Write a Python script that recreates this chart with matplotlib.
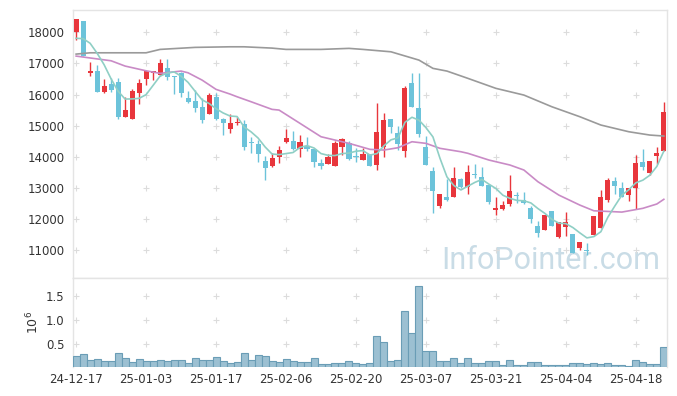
import matplotlib
matplotlib.use('Agg')
import matplotlib.pyplot as plt
import numpy as np
import pandas as pd

# ---------------- data ----------------
opens = [18020, 18360, 16700, 16750, 16080, 16340, 16400, 15290, 15200, 16060,
         16490, 16680, 16630, 16870, 16600, 16680, 15890, 15780, 15600, 15360,
         15910, 15230, 14900, 15080, 15040, 14480, 14410, 13860, 13700, 14000,
         14470, 14500, 14240, 14350, 14240, 13790, 13780, 13710, 14300, 14430,
         14030, 13900, 14080, 13740, 14320, 15200, 14750, 14190, 16360, 15560,
         14300, 13540, 12400, 12710, 12710, 13300, 13040, 13430, 13340, 13090,
         12300, 12310, 12470, 12780, 12610, 12360, 11770, 11640, 12240, 11410,
         11750, 11515, 11075, 10990, 11483, 11698, 12609, 13219, 12985, 12769,
         13004, 13840, 13467, 14033, 14193]
highs = [18440, 18370, 17050, 16950, 16500, 16520, 16520, 15910, 16170, 16500,
         16760, 16770, 17160, 17160, 16610, 16720, 16120, 16145, 15880, 16060,
         16040, 15240, 15360, 15290, 15180, 14620, 14540, 14020, 14130, 14340,
         14880, 14830, 14700, 14640, 14260, 13930, 14090, 14500, 14590, 14500,
         14270, 14270, 14100, 15740, 15420, 15210, 14990, 16260, 16680, 16680,
         14670, 13680, 12810, 13280, 13660, 13320, 13730, 13760, 13680, 13100,
         12710, 12580, 13410, 12880, 12880, 12400, 11920, 12130, 12250, 11900,
         12232, 11520, 11260, 11235, 12100, 12930, 13306, 13338, 13197, 12990,
         14055, 14238, 13870, 14302, 15769]
lows = [17750, 17240, 16600, 16080, 16040, 16090, 15200, 15280, 15200, 15690,
        16300, 16470, 16600, 16470, 16010, 15910, 15740, 15430, 15090, 15360,
        15180, 14700, 14750, 15020, 14220, 14110, 13840, 13240, 13660, 13790,
        14430, 14220, 14000, 14200, 13680, 13600, 13770, 13700, 14060, 13900,
        13840, 13900, 13700, 13570, 13980, 14770, 14220, 14000, 15600, 14640,
        13730, 12180, 12340, 12590, 12700, 13000, 12800, 13320, 13050, 12480,
        12130, 12300, 12410, 12520, 12480, 11880, 11410, 11640, 11770, 11400,
        11450, 10900, 11000, 10840, 11483, 11698, 12555, 12801, 12714, 12586,
        12319, 13573, 13412, 13766, 14193]
closes = [18430, 17250, 16760, 16090, 16270, 16150, 15270, 15500, 16110, 16360,
          16750, 16760, 17000, 16570, 16570, 16060, 15760, 15580, 15180, 15990,
          15220, 15080, 15080, 15100, 14320, 14430, 14090, 13650, 13950, 14220,
          14600, 14260, 14470, 14240, 13840, 13700, 13980, 14430, 14560, 13920,
          14000, 14080, 13710, 14800, 15180, 14950, 14400, 16210, 15610, 14720,
          13740, 12910, 12790, 12600, 13320, 13040, 13520, 13400, 13070, 12560,
          12340, 12440, 12900, 12740, 12500, 11990, 11540, 12120, 11780, 11890,
          11910, 10914, 11258, 10979, 12094, 12695, 13251, 13068, 12714, 12985,
          13788, 13679, 13862, 14130, 15447]
volumes = [0.236, 0.278, 0.158, 0.173, 0.131, 0.131, 0.300, 0.194, 0.110, 0.173,
           0.137, 0.137, 0.152, 0.137, 0.152, 0.152, 0.088, 0.194, 0.152, 0.152,
           0.215, 0.131, 0.088, 0.110, 0.300, 0.152, 0.257, 0.236, 0.131, 0.110,
           0.173, 0.131, 0.110, 0.110, 0.194, 0.067, 0.067, 0.088, 0.088, 0.131,
           0.088, 0.067, 0.088, 0.658, 0.532, 0.131, 0.152, 1.186, 0.720, 1.713,
           0.342, 0.342, 0.131, 0.131, 0.194, 0.088, 0.194, 0.088, 0.088, 0.131,
           0.131, 0.046, 0.152, 0.046, 0.046, 0.110, 0.110, 0.046, 0.046, 0.046,
           0.046, 0.088, 0.088, 0.067, 0.088, 0.067, 0.088, 0.046, 0.046, 0.025,
           0.152, 0.110, 0.067, 0.067, 0.426]  # x 1e6

# moving averages
ma5_head = [17810, 17800, 17650, 17330]
ma20_idx = [0, 5, 7, 10, 12, 15, 16, 18, 20, 22, 23, 25, 28, 29, 32, 35, 37, 39,
            42, 44, 46, 48, 50, 52, 55, 56, 59, 62, 64, 66, 69, 72, 74, 78, 81, 83, 84]
ma20_val = [17238, 17087, 16917, 16765, 16682, 16756, 16701, 16466, 16167, 16016,
            15930, 15770, 15524, 15502, 15074, 14644, 14537, 14431, 14238, 14216,
            14290, 14483, 14431, 14271, 14161, 14110, 13894, 13734, 13573, 13197,
            12766, 12445, 12262, 12220, 12341, 12480, 12631]
ma60_idx = [0, 2, 10, 12, 17, 22, 24, 28, 30, 35, 39, 41, 45, 49, 51, 53, 56, 60,
            64, 68, 72, 75, 79, 82, 84]
ma60_val = [17302, 17344, 17344, 17453, 17518, 17537, 17537, 17495, 17453, 17453,
            17486, 17453, 17376, 17109, 16843, 16756, 16521, 16200, 15984, 15608,
            15287, 15020, 14804, 14698, 14666]

tick_pos = [0, 10, 20, 30, 40, 50, 60, 70, 80]
tick_labels = ['24-12-17', '25-01-03', '25-01-17', '25-02-06', '25-02-20',
               '25-03-07', '25-03-21', '25-04-04', '25-04-18']
price_ticks = [11000, 12000, 13000, 14000, 15000, 16000, 17000, 18000]
vol_ticks = [0.5, 1.0, 1.5]

# ---------------- derived ----------------
o = np.array(opens, float); h = np.array(highs, float)
l = np.array(lows, float); c = np.array(closes, float)
x = np.arange(len(c))
ma5 = pd.Series(c).rolling(5).mean().to_numpy()
ma5[:4] = ma5_head

RED = '#e8363c'
BLUE = '#6cc3da'
up = c >= o
colors = np.where(up, RED, BLUE)

plt.rcParams['font.family'] = ['DejaVu Sans']
fig = plt.figure(figsize=(6.77, 3.96), dpi=100)
ax = fig.add_axes([0.1078, 0.298, 0.8774, 0.6767])
ax2 = fig.add_axes([0.1078, 0.072, 0.8774, 0.226], sharex=ax)

# watermark
ax.text(0.988, 0.012, 'InfoPointer.com', transform=ax.transAxes, ha='right',
        va='bottom', fontsize=22, color='#c9dce6', zorder=0, family='Roboto')

# grid crosses
gx, gy = np.meshgrid(tick_pos, price_ticks)
ax.plot(gx.ravel(), gy.ravel(), '+', color='#dcdcdc', ms=5, mew=0.8, zorder=0.5)
gx2, gy2 = np.meshgrid(tick_pos, vol_ticks)
ax2.plot(gx2.ravel(), gy2.ravel(), '+', color='#dcdcdc', ms=5, mew=0.8, zorder=0.5)

# candles
ax.vlines(x, l, h, colors=colors, linewidth=1.0, zorder=2)
body_lo = np.minimum(o, c)
body_h = np.maximum(np.abs(c - o), 35)
ax.bar(x, body_h, bottom=body_lo, width=0.72, color=colors, linewidth=0, zorder=3)

# moving averages
ax.plot(ma60_idx, ma60_val, color='#9a9a9a', lw=1.2, zorder=4)
ax.plot(ma20_idx, ma20_val, color='#c98bc6', lw=1.2, zorder=4)
ax.plot(x, ma5, color='#8fcfc5', lw=1.2, zorder=4)

ax.set_xlim(-0.45, len(c) - 0.55)
ax.set_ylim(10100, 18720)
ax.set_yticks(price_ticks)
ax.set_yticklabels([str(t) for t in price_ticks])

# volume
ax2.bar(x, volumes, width=1.0, color='#9cc0d2', edgecolor='#6a9db6', linewidth=0.8, zorder=3)
ax2.set_ylim(0, 1.888)
ax2.set_yticks(vol_ticks)
ax2.set_yticklabels(['0.5', '1.0', '1.5'])
ax2.set_xticks(tick_pos)
ax2.set_xticklabels(tick_labels)

for a in (ax, ax2):
    for s in a.spines.values():
        s.set_color('#e4e4e4')
        s.set_linewidth(1.0)
    a.tick_params(length=0, labelsize=8.5, colors='#333333', pad=6)
ax.tick_params(axis='x', labelbottom=False)
ax2.tick_params(axis='x', pad=4)
ax2.spines['bottom'].set_visible(False)

fig.text(33 / 677, 1 - 322 / 396, r'$10^{6}$', rotation=90, ha='center', va='center',
         fontsize=9, color='#333333')

fig.savefig('out.png', dpi=100)
